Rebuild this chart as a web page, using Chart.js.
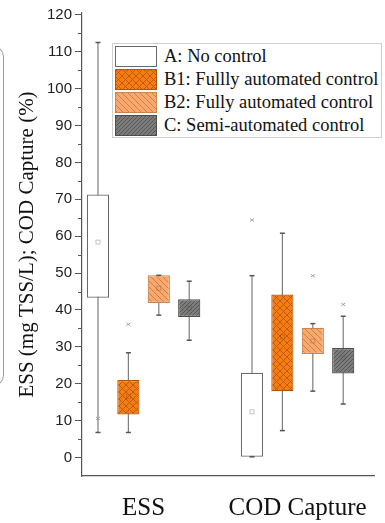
<!DOCTYPE html>
<html>
<head>
<meta charset="utf-8">
<script src="https://cdn.jsdelivr.net/npm/chart.js@4.4.1/dist/chart.umd.min.js"></script>
<style>
  body { margin: 0; background: #fff; }
  #wrap { position: relative; width: 385px; height: 523px; overflow: hidden; }
  #edge { position: absolute; left: -20px; top: 45px; width: 22px; height: 340px; border: 1.5px solid #9a9a9a; border-radius: 14px; }
  #legend { position: absolute; left: 112px; top: 43px; width: 270px; height: 95px; border: 1px solid #cfcfcf; box-sizing: border-box; background: #fff;
            font-family: 'Liberation Serif', 'Times New Roman', serif; font-size: 18.5px; color: #111; }
  .row { position: absolute; left: 2px; height: 21px; width: 260px; }
  .row canvas { position: absolute; left: 0; top: 0; }
  .row span { position: absolute; left: 49px; top: 0; line-height: 21px; white-space: nowrap; }
</style>
</head>
<body>
<div id="wrap">
  <div id="edge"></div>
  <canvas id="boxChart"></canvas>
  <div id="legend"></div>
</div>
<script>
// groups on the x axis and the four series
const groupLabels = ["ESS", "COD Capture"];
const groupPos = [1, 2];
const seriesNames = ["A: No control", "B1: Fullly automated control", "B2: Fully automated control", "C: Semi-automated control"];

// values per series: [ESS, COD Capture]
const boxBottom   = [[43.3, 0.2], [11.7, 18.0], [41.9, 28.1], [38.1, 22.8]];
const boxTop      = [[71.3, 23.0], [21.0, 44.2], [49.4, 35.2], [42.9, 29.7]];
const whiskerLow  = [[6.8, 0.2], [6.8, 7.3], [38.6, 18.0], [31.8, 14.5]];
const whiskerHigh = [[112.5, 49.3], [28.4, 60.8], [49.4, 36.3], [47.8, 38.3]];
const means       = [[58.4, 12.4], [16.5, 32.7], [45.9, 31.6], [40.5, 27.0]];
const outliers    = [[[10.6], [64.4]], [[36.1], []], [[], [49.3]], [[], [41.5]]];

const yTicks = [0, 10, 20, 30, 40, 50, 60, 70, 80, 90, 100, 110, 120];

// hatch patterns
function makePattern(bg, line, size, kind, lw) {
    const c = document.createElement("canvas");
    c.width = size; c.height = size;
    const g = c.getContext("2d");
    g.fillStyle = bg;
    g.fillRect(0, 0, size, size);
    if (kind) {
        g.strokeStyle = line;
        g.lineWidth = lw;
        g.beginPath();
        if (kind === "/" || kind === "x") {
            g.moveTo(-1, size + 1); g.lineTo(size + 1, -1);
            g.moveTo(-1, 1); g.lineTo(1, -1);
            g.moveTo(size - 1, size + 1); g.lineTo(size + 1, size - 1);
        }
        if (kind === "\\" || kind === "x") {
            g.moveTo(-1, -1); g.lineTo(size + 1, size + 1);
            g.moveTo(size - 1, -1); g.lineTo(size + 1, 1);
            g.moveTo(-1, size - 1); g.lineTo(1, size + 1);
        }
        g.stroke();
    }
    return g.createPattern(c, "repeat");
}

const fills = [
    "#ffffff",
    makePattern("#f57d0f", "#c2590a", 7, "x", 1),
    makePattern("#f6aa72", "#e07b35", 6, "\\", 1),
    makePattern("#7c7c7c", "#565656", 4, "/", 1)
];
const borders = ["#6a6a6a", "#b0560a", "#c98450", "#4e4e4e"];

// legend
const legend = document.getElementById("legend");
seriesNames.forEach((name, i) => {
    const row = document.createElement("div");
    row.className = "row";
    row.style.top = (1.5 + i * 23.3) + "px";
    const sw = document.createElement("canvas");
    sw.width = 42; sw.height = 21;
    const g = sw.getContext("2d");
    g.fillStyle = fills[i];
    g.fillRect(0, 0, 42, 21);
    g.strokeStyle = borders[i];
    g.lineWidth = 1;
    g.strokeRect(0.5, 0.5, 41, 20);
    const txt = document.createElement("span");
    txt.textContent = name;
    row.appendChild(sw);
    row.appendChild(txt);
    legend.appendChild(row);
});

const datasets = seriesNames.map((name, i) => ({
    label: name,
    data: groupPos.map((x, j) => ({ x: x, y: [boxBottom[i][j], boxTop[i][j]] })),
    backgroundColor: fills[i],
    borderColor: borders[i],
    borderWidth: 1.2,
    borderSkipped: false,
    categoryPercentage: 0.79,
    barPercentage: 0.73
}));

// whiskers, caps, means and outliers drawn through the scales
const boxExtras = {
    id: "boxExtras",
    beforeDatasetsDraw(chart) {
        const ctx = chart.ctx, y = chart.scales.y;
        ctx.save();
        ctx.strokeStyle = "#7d7d7d";
        ctx.lineWidth = 1.2;
        chart.data.datasets.forEach((ds, i) => {
            chart.getDatasetMeta(i).data.forEach((bar, j) => {
                ctx.beginPath();
                ctx.moveTo(bar.x, y.getPixelForValue(whiskerLow[i][j]));
                ctx.lineTo(bar.x, y.getPixelForValue(whiskerHigh[i][j]));
                ctx.stroke();
            });
        });
        ctx.restore();
    },
    afterDatasetsDraw(chart) {
        const ctx = chart.ctx, y = chart.scales.y;
        ctx.save();
        chart.data.datasets.forEach((ds, i) => {
            chart.getDatasetMeta(i).data.forEach((bar, j) => {
                // caps
                ctx.strokeStyle = "#555";
                ctx.lineWidth = 1.5;
                [whiskerLow[i][j], whiskerHigh[i][j]].forEach(v => {
                    const py = y.getPixelForValue(v);
                    ctx.beginPath();
                    ctx.moveTo(bar.x - 2.5, py);
                    ctx.lineTo(bar.x + 2.5, py);
                    ctx.stroke();
                });
                // mean
                const my = y.getPixelForValue(means[i][j]);
                ctx.lineWidth = 0.8;
                ctx.strokeStyle = i === 0 ? "#b5b5b5" : "rgba(90,60,40,0.35)";
                ctx.strokeRect(bar.x - 2, my - 2, 4, 4);
                // outliers
                ctx.strokeStyle = "#9a9a9a";
                ctx.lineWidth = 0.9;
                outliers[i][j].forEach(v => {
                    const py = y.getPixelForValue(v);
                    ctx.beginPath();
                    ctx.moveTo(bar.x - 2, py - 1.5); ctx.lineTo(bar.x + 2, py + 1.5);
                    ctx.moveTo(bar.x - 2, py + 1.5); ctx.lineTo(bar.x + 2, py - 1.5);
                    ctx.stroke();
                });
            });
        });
        ctx.restore();
    },
    afterDraw(chart) {
        // minor ticks on y
        const ctx = chart.ctx, y = chart.scales.y, left = chart.chartArea.left;
        ctx.save();
        ctx.strokeStyle = "#555";
        ctx.lineWidth = 1;
        for (let v = 5; v < 120; v += 10) {
            const py = Math.round(y.getPixelForValue(v)) + 0.5;
            ctx.beginPath();
            ctx.moveTo(left - 4, py);
            ctx.lineTo(left, py);
            ctx.stroke();
        }
        ctx.restore();
    }
};

const ctx = document.getElementById("boxChart").getContext("2d");
new Chart(ctx, {
    type: "bar",
    data: { datasets: datasets },
    options: {
        responsive: true,
        maintainAspectRatio: false,
        animation: false,
        layout: { padding: { top: 13, right: 5, left: 0, bottom: 0 } },
        plugins: { legend: { display: false }, tooltip: { enabled: false } },
        scales: {
            x: {
                type: "linear",
                min: 0.6,
                max: 2.5,
                offset: false,
                afterBuildTicks: axis => { axis.ticks = groupPos.map(v => ({ value: v })); },
                afterFit: axis => { axis.height = 47; },
                grid: { display: false, drawTicks: false },
                border: { display: true, color: "#555", width: 1.2 },
                ticks: {
                    autoSkip: false,
                    maxRotation: 0,
                    padding: 17,
                    color: "#111",
                    font: { family: "'Liberation Serif', 'Times New Roman', serif", size: 25 },
                    callback: v => groupLabels[groupPos.indexOf(v)]
                }
            },
            y: {
                min: -5,
                max: 120.5,
                afterBuildTicks: axis => { axis.ticks = yTicks.map(v => ({ value: v })); },
                afterFit: axis => { axis.width = 82; },
                grid: { drawOnChartArea: false, drawTicks: true, tickLength: 7, tickColor: "#555", tickWidth: 1 },
                border: { display: true, color: "#555", width: 1.2 },
                ticks: {
                    padding: 3,
                    color: "#222",
                    font: { family: "'Liberation Sans', Arial, sans-serif", size: 15 }
                },
                title: {
                    display: true,
                    text: "ESS (mg TSS/L); COD Capture (%)",
                    color: "#111",
                    padding: { top: 15, bottom: 0 },
                    font: { family: "'Liberation Serif', 'Times New Roman', serif", size: 21 }
                }
            }
        }
    },
    plugins: [boxExtras]
});
</script>
</body>
</html>
